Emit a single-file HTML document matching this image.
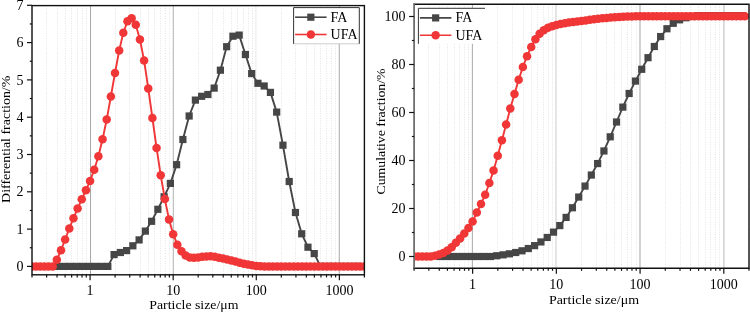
<!DOCTYPE html>
<html><head><meta charset="utf-8"><style>
html,body{margin:0;padding:0;background:#fff;width:750px;height:313px;overflow:hidden;}
svg{display:block;will-change:transform;}
text{font-family:"Liberation Serif",serif;}
</style></head><body>
<svg width="750" height="313" viewBox="0 0 750 313">
<rect width="750" height="313" fill="#fff"/>
<defs><clipPath id="cl"><rect x="32" y="5.6" width="332.4" height="269.2"/></clipPath>
<clipPath id="cr"><rect x="414.1" y="4.3" width="334.9" height="263.9"/></clipPath></defs>
<line x1="32.5" y1="5.6" x2="32.5" y2="274.8" stroke="#e4e4e4" stroke-width="1" stroke-dasharray="1,1.5"/><line x1="46.5" y1="5.6" x2="46.5" y2="274.8" stroke="#e4e4e4" stroke-width="1" stroke-dasharray="1,1.5"/><line x1="57.5" y1="5.6" x2="57.5" y2="274.8" stroke="#e4e4e4" stroke-width="1" stroke-dasharray="1,1.5"/><line x1="65.5" y1="5.6" x2="65.5" y2="274.8" stroke="#e4e4e4" stroke-width="1" stroke-dasharray="1,1.5"/><line x1="71.5" y1="5.6" x2="71.5" y2="274.8" stroke="#e4e4e4" stroke-width="1" stroke-dasharray="1,1.5"/><line x1="77.5" y1="5.6" x2="77.5" y2="274.8" stroke="#e4e4e4" stroke-width="1" stroke-dasharray="1,1.5"/><line x1="82.5" y1="5.6" x2="82.5" y2="274.8" stroke="#e4e4e4" stroke-width="1" stroke-dasharray="1,1.5"/><line x1="86.5" y1="5.6" x2="86.5" y2="274.8" stroke="#e4e4e4" stroke-width="1" stroke-dasharray="1,1.5"/><line x1="90.5" y1="5.6" x2="90.5" y2="274.8" stroke="#a8a8a8" stroke-width="1"/><line x1="115.5" y1="5.6" x2="115.5" y2="274.8" stroke="#e4e4e4" stroke-width="1" stroke-dasharray="1,1.5"/><line x1="129.5" y1="5.6" x2="129.5" y2="274.8" stroke="#e4e4e4" stroke-width="1" stroke-dasharray="1,1.5"/><line x1="140.5" y1="5.6" x2="140.5" y2="274.8" stroke="#e4e4e4" stroke-width="1" stroke-dasharray="1,1.5"/><line x1="148.5" y1="5.6" x2="148.5" y2="274.8" stroke="#e4e4e4" stroke-width="1" stroke-dasharray="1,1.5"/><line x1="154.5" y1="5.6" x2="154.5" y2="274.8" stroke="#e4e4e4" stroke-width="1" stroke-dasharray="1,1.5"/><line x1="160.5" y1="5.6" x2="160.5" y2="274.8" stroke="#e4e4e4" stroke-width="1" stroke-dasharray="1,1.5"/><line x1="165.5" y1="5.6" x2="165.5" y2="274.8" stroke="#e4e4e4" stroke-width="1" stroke-dasharray="1,1.5"/><line x1="169.5" y1="5.6" x2="169.5" y2="274.8" stroke="#e4e4e4" stroke-width="1" stroke-dasharray="1,1.5"/><line x1="173.3" y1="5.6" x2="173.3" y2="274.8" stroke="#b8b8b8" stroke-width="1.1"/><line x1="198.5" y1="5.6" x2="198.5" y2="274.8" stroke="#e4e4e4" stroke-width="1" stroke-dasharray="1,1.5"/><line x1="212.5" y1="5.6" x2="212.5" y2="274.8" stroke="#e4e4e4" stroke-width="1" stroke-dasharray="1,1.5"/><line x1="223.5" y1="5.6" x2="223.5" y2="274.8" stroke="#e4e4e4" stroke-width="1" stroke-dasharray="1,1.5"/><line x1="231.5" y1="5.6" x2="231.5" y2="274.8" stroke="#e4e4e4" stroke-width="1" stroke-dasharray="1,1.5"/><line x1="237.5" y1="5.6" x2="237.5" y2="274.8" stroke="#e4e4e4" stroke-width="1" stroke-dasharray="1,1.5"/><line x1="243.5" y1="5.6" x2="243.5" y2="274.8" stroke="#e4e4e4" stroke-width="1" stroke-dasharray="1,1.5"/><line x1="248.5" y1="5.6" x2="248.5" y2="274.8" stroke="#e4e4e4" stroke-width="1" stroke-dasharray="1,1.5"/><line x1="252.5" y1="5.6" x2="252.5" y2="274.8" stroke="#e4e4e4" stroke-width="1" stroke-dasharray="1,1.5"/><line x1="255.9" y1="5.6" x2="255.9" y2="274.8" stroke="#ededed" stroke-width="1.2"/><line x1="281.5" y1="5.6" x2="281.5" y2="274.8" stroke="#e4e4e4" stroke-width="1" stroke-dasharray="1,1.5"/><line x1="295.5" y1="5.6" x2="295.5" y2="274.8" stroke="#e4e4e4" stroke-width="1" stroke-dasharray="1,1.5"/><line x1="306.5" y1="5.6" x2="306.5" y2="274.8" stroke="#e4e4e4" stroke-width="1" stroke-dasharray="1,1.5"/><line x1="314.5" y1="5.6" x2="314.5" y2="274.8" stroke="#e4e4e4" stroke-width="1" stroke-dasharray="1,1.5"/><line x1="320.5" y1="5.6" x2="320.5" y2="274.8" stroke="#e4e4e4" stroke-width="1" stroke-dasharray="1,1.5"/><line x1="326.5" y1="5.6" x2="326.5" y2="274.8" stroke="#e4e4e4" stroke-width="1" stroke-dasharray="1,1.5"/><line x1="331.5" y1="5.6" x2="331.5" y2="274.8" stroke="#e4e4e4" stroke-width="1" stroke-dasharray="1,1.5"/><line x1="335.5" y1="5.6" x2="335.5" y2="274.8" stroke="#e4e4e4" stroke-width="1" stroke-dasharray="1,1.5"/><line x1="339.3" y1="5.6" x2="339.3" y2="274.8" stroke="#b0b0b0" stroke-width="1.1"/><line x1="364.5" y1="5.6" x2="364.5" y2="274.8" stroke="#e4e4e4" stroke-width="1" stroke-dasharray="1,1.5"/>
<g clip-path="url(#cl)">
<polyline fill="none" stroke="#464646" stroke-width="1.9" stroke-linejoin="round" points="57.81,266.4 64.06,266.4 70.32,266.4 76.57,266.4 82.82,266.4 89.08,266.4 95.33,266.4 101.59,266.4 107.84,266.4 114.09,254.6 120.35,252.5 126.6,250.6 132.86,245.8 139.11,239.9 145.36,231.1 151.62,221.3 157.87,209.3 164.12,196.8 170.38,183.4 176.63,164.7 182.89,139.5 189.14,116 195.39,100.1 201.65,96.3 207.9,94.5 214.16,88.1 220.41,70.2 226.66,46.7 232.92,36.2 239.17,35.1 245.43,54.5 251.68,73.6 257.93,83.3 264.19,86 270.44,92.4 276.69,112.1 282.95,145.2 289.2,181.5 295.46,212.5 301.71,233.8 307.96,247.2 314.22,253.6 320.47,266.4 326.73,266.4 332.98,266.4 339.23,266.4 345.49,266.4 351.74,266.4 358,266.4"/>
<g fill="#464646"><rect x="54.21" y="262.8" width="7.2" height="7.2"/><rect x="60.46" y="262.8" width="7.2" height="7.2"/><rect x="66.72" y="262.8" width="7.2" height="7.2"/><rect x="72.97" y="262.8" width="7.2" height="7.2"/><rect x="79.22" y="262.8" width="7.2" height="7.2"/><rect x="85.48" y="262.8" width="7.2" height="7.2"/><rect x="91.73" y="262.8" width="7.2" height="7.2"/><rect x="97.99" y="262.8" width="7.2" height="7.2"/><rect x="104.24" y="262.8" width="7.2" height="7.2"/><rect x="110.49" y="251" width="7.2" height="7.2"/><rect x="116.75" y="248.9" width="7.2" height="7.2"/><rect x="123" y="247" width="7.2" height="7.2"/><rect x="129.26" y="242.2" width="7.2" height="7.2"/><rect x="135.51" y="236.3" width="7.2" height="7.2"/><rect x="141.76" y="227.5" width="7.2" height="7.2"/><rect x="148.02" y="217.7" width="7.2" height="7.2"/><rect x="154.27" y="205.7" width="7.2" height="7.2"/><rect x="160.52" y="193.2" width="7.2" height="7.2"/><rect x="166.78" y="179.8" width="7.2" height="7.2"/><rect x="173.03" y="161.1" width="7.2" height="7.2"/><rect x="179.29" y="135.9" width="7.2" height="7.2"/><rect x="185.54" y="112.4" width="7.2" height="7.2"/><rect x="191.79" y="96.5" width="7.2" height="7.2"/><rect x="198.05" y="92.7" width="7.2" height="7.2"/><rect x="204.3" y="90.9" width="7.2" height="7.2"/><rect x="210.56" y="84.5" width="7.2" height="7.2"/><rect x="216.81" y="66.6" width="7.2" height="7.2"/><rect x="223.06" y="43.1" width="7.2" height="7.2"/><rect x="229.32" y="32.6" width="7.2" height="7.2"/><rect x="235.57" y="31.5" width="7.2" height="7.2"/><rect x="241.83" y="50.9" width="7.2" height="7.2"/><rect x="248.08" y="70" width="7.2" height="7.2"/><rect x="254.33" y="79.7" width="7.2" height="7.2"/><rect x="260.59" y="82.4" width="7.2" height="7.2"/><rect x="266.84" y="88.8" width="7.2" height="7.2"/><rect x="273.09" y="108.5" width="7.2" height="7.2"/><rect x="279.35" y="141.6" width="7.2" height="7.2"/><rect x="285.6" y="177.9" width="7.2" height="7.2"/><rect x="291.86" y="208.9" width="7.2" height="7.2"/><rect x="298.11" y="230.2" width="7.2" height="7.2"/><rect x="304.36" y="243.6" width="7.2" height="7.2"/><rect x="310.62" y="250" width="7.2" height="7.2"/><rect x="316.87" y="262.8" width="7.2" height="7.2"/><rect x="323.13" y="262.8" width="7.2" height="7.2"/><rect x="329.38" y="262.8" width="7.2" height="7.2"/><rect x="335.63" y="262.8" width="7.2" height="7.2"/><rect x="341.89" y="262.8" width="7.2" height="7.2"/><rect x="348.14" y="262.8" width="7.2" height="7.2"/><rect x="354.4" y="262.8" width="7.2" height="7.2"/></g>
<polyline fill="none" stroke="#f03636" stroke-width="1.9" stroke-linejoin="round" points="31.91,266.4 36.07,266.4 40.22,266.4 44.38,266.4 48.53,266.4 52.69,266.4 56.84,259.8 61,250.2 65.15,239.5 69.31,228.4 73.46,218.2 77.62,208.6 81.77,199.2 85.93,190.3 90.08,180.9 94.24,169.7 98.39,156.2 102.55,139.3 106.7,119.6 110.86,96.5 115.01,73 119.17,50.6 123.32,32.7 127.48,21.2 131.63,18.3 135.79,24.7 139.94,39.6 144.1,60.5 148.25,88.4 152.41,118 156.56,147.9 160.72,175.3 164.87,199.1 169.03,219.6 173.18,234.2 177.34,244.7 181.49,251.3 185.65,255.5 189.8,257.6 193.96,257.8 198.11,257.4 202.27,256.8 206.42,256.4 210.58,256.3 214.73,256.8 218.89,257.7 223.04,258.6 227.2,259.6 231.35,260.6 235.51,261.6 239.66,262.7 243.82,263.7 247.97,264.6 252.13,265.3 256.28,265.9 260.44,266.2 264.59,266.4 268.75,266.4 272.9,266.4 277.06,266.4 281.21,266.4 285.37,266.4 289.52,266.4 293.68,266.4 297.83,266.4 301.99,266.4 306.14,266.4 310.3,266.4 314.45,266.4 318.61,266.4 322.76,266.4 326.92,266.4 331.07,266.4 335.23,266.4 339.38,266.4 343.54,266.4 347.69,266.4 351.85,266.4 356,266.4 360.16,266.4 364.31,266.4"/>
<g fill="#f03636"><circle cx="31.91" cy="266.4" r="4.25"/><circle cx="36.07" cy="266.4" r="4.25"/><circle cx="40.22" cy="266.4" r="4.25"/><circle cx="44.38" cy="266.4" r="4.25"/><circle cx="48.53" cy="266.4" r="4.25"/><circle cx="52.69" cy="266.4" r="4.25"/><circle cx="56.84" cy="259.8" r="4.25"/><circle cx="61" cy="250.2" r="4.25"/><circle cx="65.15" cy="239.5" r="4.25"/><circle cx="69.31" cy="228.4" r="4.25"/><circle cx="73.46" cy="218.2" r="4.25"/><circle cx="77.62" cy="208.6" r="4.25"/><circle cx="81.77" cy="199.2" r="4.25"/><circle cx="85.93" cy="190.3" r="4.25"/><circle cx="90.08" cy="180.9" r="4.25"/><circle cx="94.24" cy="169.7" r="4.25"/><circle cx="98.39" cy="156.2" r="4.25"/><circle cx="102.55" cy="139.3" r="4.25"/><circle cx="106.7" cy="119.6" r="4.25"/><circle cx="110.86" cy="96.5" r="4.25"/><circle cx="115.01" cy="73" r="4.25"/><circle cx="119.17" cy="50.6" r="4.25"/><circle cx="123.32" cy="32.7" r="4.25"/><circle cx="127.48" cy="21.2" r="4.25"/><circle cx="131.63" cy="18.3" r="4.25"/><circle cx="135.79" cy="24.7" r="4.25"/><circle cx="139.94" cy="39.6" r="4.25"/><circle cx="144.1" cy="60.5" r="4.25"/><circle cx="148.25" cy="88.4" r="4.25"/><circle cx="152.41" cy="118" r="4.25"/><circle cx="156.56" cy="147.9" r="4.25"/><circle cx="160.72" cy="175.3" r="4.25"/><circle cx="164.87" cy="199.1" r="4.25"/><circle cx="169.03" cy="219.6" r="4.25"/><circle cx="173.18" cy="234.2" r="4.25"/><circle cx="177.34" cy="244.7" r="4.25"/><circle cx="181.49" cy="251.3" r="4.25"/><circle cx="185.65" cy="255.5" r="4.25"/><circle cx="189.8" cy="257.6" r="4.25"/><circle cx="193.96" cy="257.8" r="4.25"/><circle cx="198.11" cy="257.4" r="4.25"/><circle cx="202.27" cy="256.8" r="4.25"/><circle cx="206.42" cy="256.4" r="4.25"/><circle cx="210.58" cy="256.3" r="4.25"/><circle cx="214.73" cy="256.8" r="4.25"/><circle cx="218.89" cy="257.7" r="4.25"/><circle cx="223.04" cy="258.6" r="4.25"/><circle cx="227.2" cy="259.6" r="4.25"/><circle cx="231.35" cy="260.6" r="4.25"/><circle cx="235.51" cy="261.6" r="4.25"/><circle cx="239.66" cy="262.7" r="4.25"/><circle cx="243.82" cy="263.7" r="4.25"/><circle cx="247.97" cy="264.6" r="4.25"/><circle cx="252.13" cy="265.3" r="4.25"/><circle cx="256.28" cy="265.9" r="4.25"/><circle cx="260.44" cy="266.2" r="4.25"/><circle cx="264.59" cy="266.4" r="4.25"/><circle cx="268.75" cy="266.4" r="4.25"/><circle cx="272.9" cy="266.4" r="4.25"/><circle cx="277.06" cy="266.4" r="4.25"/><circle cx="281.21" cy="266.4" r="4.25"/><circle cx="285.37" cy="266.4" r="4.25"/><circle cx="289.52" cy="266.4" r="4.25"/><circle cx="293.68" cy="266.4" r="4.25"/><circle cx="297.83" cy="266.4" r="4.25"/><circle cx="301.99" cy="266.4" r="4.25"/><circle cx="306.14" cy="266.4" r="4.25"/><circle cx="310.3" cy="266.4" r="4.25"/><circle cx="314.45" cy="266.4" r="4.25"/><circle cx="318.61" cy="266.4" r="4.25"/><circle cx="322.76" cy="266.4" r="4.25"/><circle cx="326.92" cy="266.4" r="4.25"/><circle cx="331.07" cy="266.4" r="4.25"/><circle cx="335.23" cy="266.4" r="4.25"/><circle cx="339.38" cy="266.4" r="4.25"/><circle cx="343.54" cy="266.4" r="4.25"/><circle cx="347.69" cy="266.4" r="4.25"/><circle cx="351.85" cy="266.4" r="4.25"/><circle cx="356" cy="266.4" r="4.25"/><circle cx="360.16" cy="266.4" r="4.25"/><circle cx="364.31" cy="266.4" r="4.25"/></g>
</g>
<line x1="414.5" y1="4.3" x2="414.5" y2="268.2" stroke="#e4e4e4" stroke-width="1" stroke-dasharray="1,1.5"/><line x1="428.5" y1="4.3" x2="428.5" y2="268.2" stroke="#e4e4e4" stroke-width="1" stroke-dasharray="1,1.5"/><line x1="439.5" y1="4.3" x2="439.5" y2="268.2" stroke="#e4e4e4" stroke-width="1" stroke-dasharray="1,1.5"/><line x1="447.5" y1="4.3" x2="447.5" y2="268.2" stroke="#e4e4e4" stroke-width="1" stroke-dasharray="1,1.5"/><line x1="454.5" y1="4.3" x2="454.5" y2="268.2" stroke="#e4e4e4" stroke-width="1" stroke-dasharray="1,1.5"/><line x1="459.5" y1="4.3" x2="459.5" y2="268.2" stroke="#e4e4e4" stroke-width="1" stroke-dasharray="1,1.5"/><line x1="464.5" y1="4.3" x2="464.5" y2="268.2" stroke="#e4e4e4" stroke-width="1" stroke-dasharray="1,1.5"/><line x1="468.5" y1="4.3" x2="468.5" y2="268.2" stroke="#e4e4e4" stroke-width="1" stroke-dasharray="1,1.5"/><line x1="472.4" y1="4.3" x2="472.4" y2="268.2" stroke="#b0b0b0" stroke-width="1.1"/><line x1="497.5" y1="4.3" x2="497.5" y2="268.2" stroke="#e4e4e4" stroke-width="1" stroke-dasharray="1,1.5"/><line x1="512.5" y1="4.3" x2="512.5" y2="268.2" stroke="#e4e4e4" stroke-width="1" stroke-dasharray="1,1.5"/><line x1="523.5" y1="4.3" x2="523.5" y2="268.2" stroke="#e4e4e4" stroke-width="1" stroke-dasharray="1,1.5"/><line x1="531.5" y1="4.3" x2="531.5" y2="268.2" stroke="#e4e4e4" stroke-width="1" stroke-dasharray="1,1.5"/><line x1="537.5" y1="4.3" x2="537.5" y2="268.2" stroke="#e4e4e4" stroke-width="1" stroke-dasharray="1,1.5"/><line x1="543.5" y1="4.3" x2="543.5" y2="268.2" stroke="#e4e4e4" stroke-width="1" stroke-dasharray="1,1.5"/><line x1="548.5" y1="4.3" x2="548.5" y2="268.2" stroke="#e4e4e4" stroke-width="1" stroke-dasharray="1,1.5"/><line x1="552.5" y1="4.3" x2="552.5" y2="268.2" stroke="#e4e4e4" stroke-width="1" stroke-dasharray="1,1.5"/><line x1="556" y1="4.3" x2="556" y2="268.2" stroke="#dcdcdc" stroke-width="1.5"/><line x1="581.5" y1="4.3" x2="581.5" y2="268.2" stroke="#e4e4e4" stroke-width="1" stroke-dasharray="1,1.5"/><line x1="596.5" y1="4.3" x2="596.5" y2="268.2" stroke="#e4e4e4" stroke-width="1" stroke-dasharray="1,1.5"/><line x1="606.5" y1="4.3" x2="606.5" y2="268.2" stroke="#e4e4e4" stroke-width="1" stroke-dasharray="1,1.5"/><line x1="614.5" y1="4.3" x2="614.5" y2="268.2" stroke="#e4e4e4" stroke-width="1" stroke-dasharray="1,1.5"/><line x1="621.5" y1="4.3" x2="621.5" y2="268.2" stroke="#e4e4e4" stroke-width="1" stroke-dasharray="1,1.5"/><line x1="627.5" y1="4.3" x2="627.5" y2="268.2" stroke="#e4e4e4" stroke-width="1" stroke-dasharray="1,1.5"/><line x1="631.5" y1="4.3" x2="631.5" y2="268.2" stroke="#e4e4e4" stroke-width="1" stroke-dasharray="1,1.5"/><line x1="636.5" y1="4.3" x2="636.5" y2="268.2" stroke="#e4e4e4" stroke-width="1" stroke-dasharray="1,1.5"/><line x1="640" y1="4.3" x2="640" y2="268.2" stroke="#c6c6c6" stroke-width="1.6"/><line x1="665.5" y1="4.3" x2="665.5" y2="268.2" stroke="#e4e4e4" stroke-width="1" stroke-dasharray="1,1.5"/><line x1="680.5" y1="4.3" x2="680.5" y2="268.2" stroke="#e4e4e4" stroke-width="1" stroke-dasharray="1,1.5"/><line x1="690.5" y1="4.3" x2="690.5" y2="268.2" stroke="#e4e4e4" stroke-width="1" stroke-dasharray="1,1.5"/><line x1="698.5" y1="4.3" x2="698.5" y2="268.2" stroke="#e4e4e4" stroke-width="1" stroke-dasharray="1,1.5"/><line x1="705.5" y1="4.3" x2="705.5" y2="268.2" stroke="#e4e4e4" stroke-width="1" stroke-dasharray="1,1.5"/><line x1="710.5" y1="4.3" x2="710.5" y2="268.2" stroke="#e4e4e4" stroke-width="1" stroke-dasharray="1,1.5"/><line x1="715.5" y1="4.3" x2="715.5" y2="268.2" stroke="#e4e4e4" stroke-width="1" stroke-dasharray="1,1.5"/><line x1="719.5" y1="4.3" x2="719.5" y2="268.2" stroke="#e4e4e4" stroke-width="1" stroke-dasharray="1,1.5"/><line x1="723.9" y1="4.3" x2="723.9" y2="268.2" stroke="#d4d4d4" stroke-width="1.6"/><line x1="749.5" y1="4.3" x2="749.5" y2="268.2" stroke="#e4e4e4" stroke-width="1" stroke-dasharray="1,1.5"/>
<g clip-path="url(#cr)">
<polyline fill="none" stroke="#464646" stroke-width="1.9" stroke-linejoin="round" points="440.1,256.5 446.4,256.5 452.7,256.5 459.01,256.5 465.31,256.5 471.61,256.5 477.91,256.5 484.21,256.5 490.51,256.5 496.81,255.74 503.11,254.85 509.41,253.83 515.71,252.5 522.01,250.8 528.32,248.53 534.62,245.63 540.92,241.95 547.22,237.47 553.52,232.13 559.82,225.59 566.12,217.42 572.42,207.75 578.72,197.05 585.02,186.1 591.33,175.04 597.63,163.57 603.93,150.95 610.23,136.81 616.53,122 622.83,107.11 629.13,93.48 635.43,81.07 641.73,69.29 648.03,57.69 654.33,46.49 660.64,36.56 666.94,28.76 673.24,23.3 679.54,19.83 685.84,17.74 692.14,16.5 698.44,15.68 704.74,15.68 711.04,15.68 717.34,15.68 723.64,15.68 729.95,15.68 736.25,15.68 742.55,15.68"/>
<g fill="#464646"><rect x="436.5" y="252.9" width="7.2" height="7.2"/><rect x="442.8" y="252.9" width="7.2" height="7.2"/><rect x="449.1" y="252.9" width="7.2" height="7.2"/><rect x="455.41" y="252.9" width="7.2" height="7.2"/><rect x="461.71" y="252.9" width="7.2" height="7.2"/><rect x="468.01" y="252.9" width="7.2" height="7.2"/><rect x="474.31" y="252.9" width="7.2" height="7.2"/><rect x="480.61" y="252.9" width="7.2" height="7.2"/><rect x="486.91" y="252.9" width="7.2" height="7.2"/><rect x="493.21" y="252.14" width="7.2" height="7.2"/><rect x="499.51" y="251.25" width="7.2" height="7.2"/><rect x="505.81" y="250.23" width="7.2" height="7.2"/><rect x="512.11" y="248.9" width="7.2" height="7.2"/><rect x="518.41" y="247.2" width="7.2" height="7.2"/><rect x="524.72" y="244.93" width="7.2" height="7.2"/><rect x="531.02" y="242.03" width="7.2" height="7.2"/><rect x="537.32" y="238.35" width="7.2" height="7.2"/><rect x="543.62" y="233.87" width="7.2" height="7.2"/><rect x="549.92" y="228.53" width="7.2" height="7.2"/><rect x="556.22" y="221.99" width="7.2" height="7.2"/><rect x="562.52" y="213.82" width="7.2" height="7.2"/><rect x="568.82" y="204.15" width="7.2" height="7.2"/><rect x="575.12" y="193.45" width="7.2" height="7.2"/><rect x="581.42" y="182.5" width="7.2" height="7.2"/><rect x="587.73" y="171.44" width="7.2" height="7.2"/><rect x="594.03" y="159.97" width="7.2" height="7.2"/><rect x="600.33" y="147.35" width="7.2" height="7.2"/><rect x="606.63" y="133.21" width="7.2" height="7.2"/><rect x="612.93" y="118.4" width="7.2" height="7.2"/><rect x="619.23" y="103.51" width="7.2" height="7.2"/><rect x="625.53" y="89.88" width="7.2" height="7.2"/><rect x="631.83" y="77.47" width="7.2" height="7.2"/><rect x="638.13" y="65.69" width="7.2" height="7.2"/><rect x="644.43" y="54.09" width="7.2" height="7.2"/><rect x="650.73" y="42.89" width="7.2" height="7.2"/><rect x="657.04" y="32.96" width="7.2" height="7.2"/><rect x="663.34" y="25.16" width="7.2" height="7.2"/><rect x="669.64" y="19.7" width="7.2" height="7.2"/><rect x="675.94" y="16.23" width="7.2" height="7.2"/><rect x="682.24" y="14.14" width="7.2" height="7.2"/><rect x="688.54" y="12.9" width="7.2" height="7.2"/><rect x="694.84" y="12.08" width="7.2" height="7.2"/><rect x="701.14" y="12.08" width="7.2" height="7.2"/><rect x="707.44" y="12.08" width="7.2" height="7.2"/><rect x="713.74" y="12.08" width="7.2" height="7.2"/><rect x="720.04" y="12.08" width="7.2" height="7.2"/><rect x="726.35" y="12.08" width="7.2" height="7.2"/><rect x="732.65" y="12.08" width="7.2" height="7.2"/><rect x="738.95" y="12.08" width="7.2" height="7.2"/></g>
<polyline fill="none" stroke="#f03636" stroke-width="1.9" stroke-linejoin="round" points="414.01,256.4 418.2,256.4 422.39,256.4 426.57,256.4 430.76,256.4 434.95,255.8 439.13,254.6 443.32,253 447.5,250.6 451.69,247.2 455.88,242.7 460.06,238.4 464.25,233.5 468.44,228 472.62,221.5 476.81,212.4 480.99,204.1 485.18,194.7 489.37,183 493.55,170.4 497.74,155.8 501.93,140.3 506.11,124.5 510.3,108.5 514.48,93.9 518.67,79.8 522.86,67 527.04,56.2 531.23,47 535.42,39.2 539.6,33.8 543.79,30.3 547.97,27.8 552.16,26.2 556.35,25 560.53,24 564.72,23.3 568.91,22.6 573.09,22 577.28,21.5 581.46,21 585.65,20.4 589.84,19.8 594.02,19.2 598.21,18.7 602.4,18.3 606.58,17.9 610.77,17.5 614.95,17.2 619.14,16.9 623.33,16.7 627.51,16.5 631.7,16.4 635.89,16.3 640.07,16.3 644.26,16.3 648.44,16.3 652.63,16.3 656.82,16.3 661,16.3 665.19,16.3 669.38,16.3 673.56,16.3 677.75,16.3 681.93,16.3 686.12,16.3 690.31,16.3 694.49,16.3 698.68,16.3 702.87,16.3 707.05,16.3 711.24,16.3 715.42,16.3 719.61,16.3 723.8,16.3 727.98,16.3 732.17,16.3 736.36,16.3 740.54,16.3 744.73,16.3"/>
<g fill="#f03636"><circle cx="414.01" cy="256.4" r="4.25"/><circle cx="418.2" cy="256.4" r="4.25"/><circle cx="422.39" cy="256.4" r="4.25"/><circle cx="426.57" cy="256.4" r="4.25"/><circle cx="430.76" cy="256.4" r="4.25"/><circle cx="434.95" cy="255.8" r="4.25"/><circle cx="439.13" cy="254.6" r="4.25"/><circle cx="443.32" cy="253" r="4.25"/><circle cx="447.5" cy="250.6" r="4.25"/><circle cx="451.69" cy="247.2" r="4.25"/><circle cx="455.88" cy="242.7" r="4.25"/><circle cx="460.06" cy="238.4" r="4.25"/><circle cx="464.25" cy="233.5" r="4.25"/><circle cx="468.44" cy="228" r="4.25"/><circle cx="472.62" cy="221.5" r="4.25"/><circle cx="476.81" cy="212.4" r="4.25"/><circle cx="480.99" cy="204.1" r="4.25"/><circle cx="485.18" cy="194.7" r="4.25"/><circle cx="489.37" cy="183" r="4.25"/><circle cx="493.55" cy="170.4" r="4.25"/><circle cx="497.74" cy="155.8" r="4.25"/><circle cx="501.93" cy="140.3" r="4.25"/><circle cx="506.11" cy="124.5" r="4.25"/><circle cx="510.3" cy="108.5" r="4.25"/><circle cx="514.48" cy="93.9" r="4.25"/><circle cx="518.67" cy="79.8" r="4.25"/><circle cx="522.86" cy="67" r="4.25"/><circle cx="527.04" cy="56.2" r="4.25"/><circle cx="531.23" cy="47" r="4.25"/><circle cx="535.42" cy="39.2" r="4.25"/><circle cx="539.6" cy="33.8" r="4.25"/><circle cx="543.79" cy="30.3" r="4.25"/><circle cx="547.97" cy="27.8" r="4.25"/><circle cx="552.16" cy="26.2" r="4.25"/><circle cx="556.35" cy="25" r="4.25"/><circle cx="560.53" cy="24" r="4.25"/><circle cx="564.72" cy="23.3" r="4.25"/><circle cx="568.91" cy="22.6" r="4.25"/><circle cx="573.09" cy="22" r="4.25"/><circle cx="577.28" cy="21.5" r="4.25"/><circle cx="581.46" cy="21" r="4.25"/><circle cx="585.65" cy="20.4" r="4.25"/><circle cx="589.84" cy="19.8" r="4.25"/><circle cx="594.02" cy="19.2" r="4.25"/><circle cx="598.21" cy="18.7" r="4.25"/><circle cx="602.4" cy="18.3" r="4.25"/><circle cx="606.58" cy="17.9" r="4.25"/><circle cx="610.77" cy="17.5" r="4.25"/><circle cx="614.95" cy="17.2" r="4.25"/><circle cx="619.14" cy="16.9" r="4.25"/><circle cx="623.33" cy="16.7" r="4.25"/><circle cx="627.51" cy="16.5" r="4.25"/><circle cx="631.7" cy="16.4" r="4.25"/><circle cx="635.89" cy="16.3" r="4.25"/><circle cx="640.07" cy="16.3" r="4.25"/><circle cx="644.26" cy="16.3" r="4.25"/><circle cx="648.44" cy="16.3" r="4.25"/><circle cx="652.63" cy="16.3" r="4.25"/><circle cx="656.82" cy="16.3" r="4.25"/><circle cx="661" cy="16.3" r="4.25"/><circle cx="665.19" cy="16.3" r="4.25"/><circle cx="669.38" cy="16.3" r="4.25"/><circle cx="673.56" cy="16.3" r="4.25"/><circle cx="677.75" cy="16.3" r="4.25"/><circle cx="681.93" cy="16.3" r="4.25"/><circle cx="686.12" cy="16.3" r="4.25"/><circle cx="690.31" cy="16.3" r="4.25"/><circle cx="694.49" cy="16.3" r="4.25"/><circle cx="698.68" cy="16.3" r="4.25"/><circle cx="702.87" cy="16.3" r="4.25"/><circle cx="707.05" cy="16.3" r="4.25"/><circle cx="711.24" cy="16.3" r="4.25"/><circle cx="715.42" cy="16.3" r="4.25"/><circle cx="719.61" cy="16.3" r="4.25"/><circle cx="723.8" cy="16.3" r="4.25"/><circle cx="727.98" cy="16.3" r="4.25"/><circle cx="732.17" cy="16.3" r="4.25"/><circle cx="736.36" cy="16.3" r="4.25"/><circle cx="740.54" cy="16.3" r="4.25"/><circle cx="744.73" cy="16.3" r="4.25"/></g>
</g>
<g fill="none" stroke="#111" stroke-width="1.4">
<rect x="32" y="5.6" width="332.4" height="269.2"/>
<polyline points="413.4,4.3 749,4.3 749,268.2 413.4,268.2"/>
</g>
<line x1="414.1" y1="3.6" x2="414.1" y2="268.9" stroke="#6e6e6e" stroke-width="1.8"/>
<g stroke="#111" stroke-width="1.2">
<line x1="32" y1="274.8" x2="32" y2="277.4"/><line x1="46.63" y1="274.8" x2="46.63" y2="277.4"/><line x1="57.02" y1="274.8" x2="57.02" y2="277.4"/><line x1="65.07" y1="274.8" x2="65.07" y2="277.4"/><line x1="71.65" y1="274.8" x2="71.65" y2="277.4"/><line x1="77.21" y1="274.8" x2="77.21" y2="277.4"/><line x1="82.03" y1="274.8" x2="82.03" y2="277.4"/><line x1="86.28" y1="274.8" x2="86.28" y2="277.4"/><line x1="90.08" y1="274.8" x2="90.08" y2="280.3"/><line x1="115.1" y1="274.8" x2="115.1" y2="277.4"/><line x1="129.73" y1="274.8" x2="129.73" y2="277.4"/><line x1="140.12" y1="274.8" x2="140.12" y2="277.4"/><line x1="148.17" y1="274.8" x2="148.17" y2="277.4"/><line x1="154.75" y1="274.8" x2="154.75" y2="277.4"/><line x1="160.31" y1="274.8" x2="160.31" y2="277.4"/><line x1="165.13" y1="274.8" x2="165.13" y2="277.4"/><line x1="169.38" y1="274.8" x2="169.38" y2="277.4"/><line x1="173.18" y1="274.8" x2="173.18" y2="280.3"/><line x1="198.2" y1="274.8" x2="198.2" y2="277.4"/><line x1="212.83" y1="274.8" x2="212.83" y2="277.4"/><line x1="223.22" y1="274.8" x2="223.22" y2="277.4"/><line x1="231.27" y1="274.8" x2="231.27" y2="277.4"/><line x1="237.85" y1="274.8" x2="237.85" y2="277.4"/><line x1="243.41" y1="274.8" x2="243.41" y2="277.4"/><line x1="248.23" y1="274.8" x2="248.23" y2="277.4"/><line x1="252.48" y1="274.8" x2="252.48" y2="277.4"/><line x1="256.28" y1="274.8" x2="256.28" y2="280.3"/><line x1="281.3" y1="274.8" x2="281.3" y2="277.4"/><line x1="295.93" y1="274.8" x2="295.93" y2="277.4"/><line x1="306.32" y1="274.8" x2="306.32" y2="277.4"/><line x1="314.37" y1="274.8" x2="314.37" y2="277.4"/><line x1="320.95" y1="274.8" x2="320.95" y2="277.4"/><line x1="326.51" y1="274.8" x2="326.51" y2="277.4"/><line x1="331.33" y1="274.8" x2="331.33" y2="277.4"/><line x1="335.58" y1="274.8" x2="335.58" y2="277.4"/><line x1="339.38" y1="274.8" x2="339.38" y2="280.3"/><line x1="364.4" y1="274.8" x2="364.4" y2="277.4"/>
<line x1="414.1" y1="268.2" x2="414.1" y2="270.8"/><line x1="428.84" y1="268.2" x2="428.84" y2="270.8"/><line x1="439.3" y1="268.2" x2="439.3" y2="270.8"/><line x1="447.42" y1="268.2" x2="447.42" y2="270.8"/><line x1="454.05" y1="268.2" x2="454.05" y2="270.8"/><line x1="459.65" y1="268.2" x2="459.65" y2="270.8"/><line x1="464.51" y1="268.2" x2="464.51" y2="270.8"/><line x1="468.79" y1="268.2" x2="468.79" y2="270.8"/><line x1="472.62" y1="268.2" x2="472.62" y2="273.7"/><line x1="497.83" y1="268.2" x2="497.83" y2="270.8"/><line x1="512.57" y1="268.2" x2="512.57" y2="270.8"/><line x1="523.03" y1="268.2" x2="523.03" y2="270.8"/><line x1="531.14" y1="268.2" x2="531.14" y2="270.8"/><line x1="537.77" y1="268.2" x2="537.77" y2="270.8"/><line x1="543.38" y1="268.2" x2="543.38" y2="270.8"/><line x1="548.23" y1="268.2" x2="548.23" y2="270.8"/><line x1="552.52" y1="268.2" x2="552.52" y2="270.8"/><line x1="556.35" y1="268.2" x2="556.35" y2="273.7"/><line x1="581.55" y1="268.2" x2="581.55" y2="270.8"/><line x1="596.29" y1="268.2" x2="596.29" y2="270.8"/><line x1="606.75" y1="268.2" x2="606.75" y2="270.8"/><line x1="614.87" y1="268.2" x2="614.87" y2="270.8"/><line x1="621.5" y1="268.2" x2="621.5" y2="270.8"/><line x1="627.1" y1="268.2" x2="627.1" y2="270.8"/><line x1="631.96" y1="268.2" x2="631.96" y2="270.8"/><line x1="636.24" y1="268.2" x2="636.24" y2="270.8"/><line x1="640.07" y1="268.2" x2="640.07" y2="273.7"/><line x1="665.27" y1="268.2" x2="665.27" y2="270.8"/><line x1="680.02" y1="268.2" x2="680.02" y2="270.8"/><line x1="690.48" y1="268.2" x2="690.48" y2="270.8"/><line x1="698.59" y1="268.2" x2="698.59" y2="270.8"/><line x1="705.22" y1="268.2" x2="705.22" y2="270.8"/><line x1="710.83" y1="268.2" x2="710.83" y2="270.8"/><line x1="715.68" y1="268.2" x2="715.68" y2="270.8"/><line x1="719.97" y1="268.2" x2="719.97" y2="270.8"/><line x1="723.8" y1="268.2" x2="723.8" y2="273.7"/><line x1="749" y1="268.2" x2="749" y2="270.8"/>
<line x1="27" y1="266.4" x2="32" y2="266.4"/><line x1="27" y1="229.1" x2="32" y2="229.1"/><line x1="27" y1="191.8" x2="32" y2="191.8"/><line x1="27" y1="154.5" x2="32" y2="154.5"/><line x1="27" y1="117.2" x2="32" y2="117.2"/><line x1="27" y1="79.9" x2="32" y2="79.9"/><line x1="27" y1="42.6" x2="32" y2="42.6"/><line x1="27" y1="5.3" x2="32" y2="5.3"/><line x1="29.8" y1="247.75" x2="32" y2="247.75"/><line x1="29.8" y1="210.45" x2="32" y2="210.45"/><line x1="29.8" y1="173.15" x2="32" y2="173.15"/><line x1="29.8" y1="135.85" x2="32" y2="135.85"/><line x1="29.8" y1="98.55" x2="32" y2="98.55"/><line x1="29.8" y1="61.25" x2="32" y2="61.25"/><line x1="29.8" y1="23.95" x2="32" y2="23.95"/>
<line x1="409.1" y1="256.5" x2="414.1" y2="256.5"/><line x1="409.1" y1="208.5" x2="414.1" y2="208.5"/><line x1="409.1" y1="160.5" x2="414.1" y2="160.5"/><line x1="409.1" y1="112.5" x2="414.1" y2="112.5"/><line x1="409.1" y1="64.5" x2="414.1" y2="64.5"/><line x1="409.1" y1="16.5" x2="414.1" y2="16.5"/><line x1="411.9" y1="232.5" x2="414.1" y2="232.5"/><line x1="411.9" y1="184.5" x2="414.1" y2="184.5"/><line x1="411.9" y1="136.5" x2="414.1" y2="136.5"/><line x1="411.9" y1="88.5" x2="414.1" y2="88.5"/><line x1="411.9" y1="40.5" x2="414.1" y2="40.5"/>
</g>
<g font-size="14" fill="#000">
<text x="23.5" y="271" text-anchor="end">0</text>
<text x="23.5" y="233.7" text-anchor="end">1</text>
<text x="23.5" y="196.4" text-anchor="end">2</text>
<text x="23.5" y="159.1" text-anchor="end">3</text>
<text x="23.5" y="121.8" text-anchor="end">4</text>
<text x="23.5" y="84.5" text-anchor="end">5</text>
<text x="23.5" y="47.2" text-anchor="end">6</text>
<text x="23.5" y="9.9" text-anchor="end">7</text>
<text x="405.6" y="261.1" text-anchor="end">0</text>
<text x="405.6" y="213.1" text-anchor="end">20</text>
<text x="405.6" y="165.1" text-anchor="end">40</text>
<text x="405.6" y="117.1" text-anchor="end">60</text>
<text x="405.6" y="69.1" text-anchor="end">80</text>
<text x="405.6" y="21.1" text-anchor="end">100</text>
<text x="90.08" y="294.7" text-anchor="middle">1</text>
<text x="472.62" y="288.9" text-anchor="middle">1</text>
<text x="173.18" y="294.7" text-anchor="middle">10</text>
<text x="556.35" y="288.9" text-anchor="middle">10</text>
<text x="256.28" y="294.7" text-anchor="middle">100</text>
<text x="640.07" y="288.9" text-anchor="middle">100</text>
<text x="339.38" y="294.7" text-anchor="middle">1000</text>
<text x="723.8" y="288.9" text-anchor="middle">1000</text>
</g>
<g font-size="13.2" fill="#000">
<text x="149.3" y="309.4" textLength="89.2" lengthAdjust="spacingAndGlyphs">Particle size/μm</text>
<text x="548.9" y="304" textLength="90.2" lengthAdjust="spacingAndGlyphs">Particle size/μm</text>
<text transform="translate(10.2,202.9) rotate(-90)" textLength="127.3" lengthAdjust="spacingAndGlyphs">Differential fraction/%</text>
<text transform="translate(385.1,194.5) rotate(-90)" textLength="126.1" lengthAdjust="spacingAndGlyphs">Cumulative fraction/%</text>
</g>
<rect x="293.6" y="7.6" width="65.7" height="36.2" fill="#fff"/><line x1="293.6" y1="43.8" x2="359.3" y2="43.8" stroke="#ccc" stroke-width="1"/><polyline fill="none" stroke="#333" stroke-width="1" points="293.6,43.8 293.6,7.6 359.3,7.6 359.3,43.8"/><line x1="295.1" y1="17.2" x2="326.6" y2="17.2" stroke="#464646" stroke-width="1.6"/><rect x="307.25" y="13.6" width="7.2" height="7.2" fill="#464646"/><line x1="295.1" y1="34.5" x2="326.6" y2="34.5" stroke="#f03636" stroke-width="1.6"/><circle cx="310.85" cy="34.5" r="4.25" fill="#f03636"/><text x="330.6" y="21.5" font-size="14" fill="#000">FA</text><text x="330.6" y="38.8" font-size="14" fill="#000">UFA</text>
<rect x="418.4" y="8.3" width="66.6" height="35.5" fill="#fff"/><polyline fill="none" stroke="#333" stroke-width="1" points="418.4,43.8 418.4,8.3 485,8.3"/><line x1="419.9" y1="17.9" x2="451.4" y2="17.9" stroke="#464646" stroke-width="1.6"/><rect x="432.05" y="14.3" width="7.2" height="7.2" fill="#464646"/><line x1="419.9" y1="35.2" x2="451.4" y2="35.2" stroke="#f03636" stroke-width="1.6"/><circle cx="435.65" cy="35.2" r="4.25" fill="#f03636"/><text x="455.4" y="22.2" font-size="14" fill="#000">FA</text><text x="455.4" y="39.5" font-size="14" fill="#000">UFA</text>
</svg>
</body></html>
